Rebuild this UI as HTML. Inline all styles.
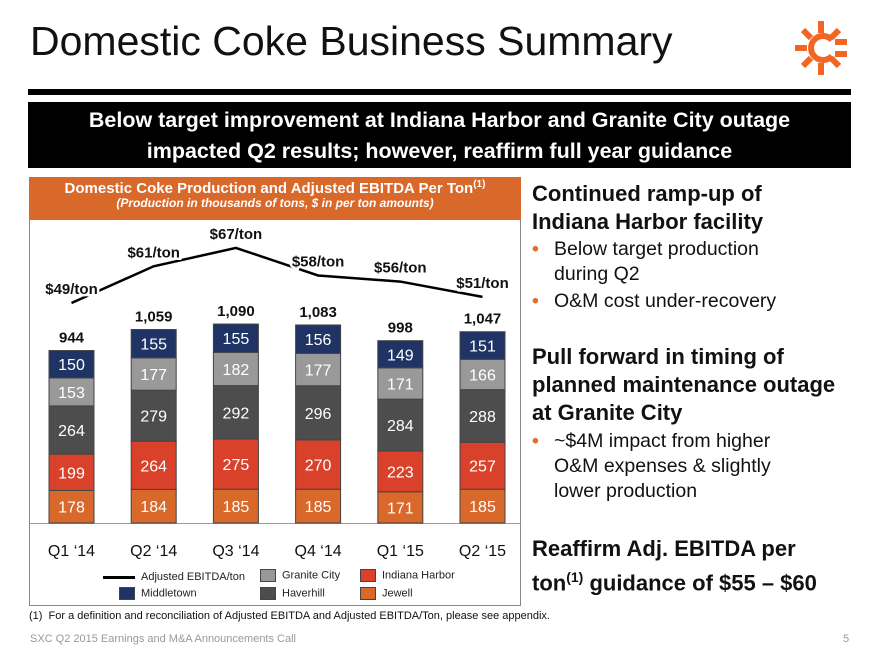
<!DOCTYPE html>
<html><head><meta charset="utf-8"><style>
body{margin:0;width:880px;height:660px;position:relative;background:#fff;font-family:"Liberation Sans",sans-serif;overflow:hidden}
.abs{position:absolute}
.rt{position:absolute;left:532px;color:#111;font-weight:bold;font-size:22px;line-height:28px}
.bl{position:absolute;left:532px;color:#111;font-size:19.5px;line-height:25px}
.bl b{color:#e0702a;display:inline-block;width:22px}
</style></head><body>
<div class="abs" style="left:30px;top:18px;font-size:41px;color:#111">Domestic Coke Business Summary</div>
<svg class="abs" style="left:795px;top:18px" width="56" height="60" viewBox="0 0 56 60">
<g stroke="#f26522" stroke-width="6" fill="none">
<line x1="26" y1="3" x2="26" y2="15"/><line x1="26" y1="45" x2="26" y2="57"/>
<line x1="0" y1="30" x2="12" y2="30"/>
<line x1="8" y1="12" x2="16" y2="20"/><line x1="8" y1="48" x2="16" y2="40"/>
<line x1="44" y1="12" x2="36" y2="20"/><line x1="44" y1="48" x2="36" y2="40"/>
<line x1="40" y1="24" x2="52" y2="24"/><line x1="40" y1="36" x2="52" y2="36"/>
<path d="M37 22 A12 12 0 1 0 37 38"/></g></svg>
<div class="abs" style="left:28px;top:89px;width:823px;height:6px;background:#000"></div>
<div class="abs" style="left:28px;top:102px;width:823px;height:66px;background:#000;color:#fff;font-weight:bold;font-size:21.5px;line-height:31px;text-align:center;padding-top:3px;box-sizing:border-box">Below target improvement at Indiana Harbor and Granite City outage<br>impacted Q2 results; however, reaffirm full year guidance</div>

<div class="abs" style="left:29px;top:177px;width:492px;height:429px;border:1px solid #888;box-sizing:border-box"></div>
<div class="abs" style="left:29px;top:177px;width:492px;height:43px;background:#d9682b;color:#fff;text-align:center;font-weight:bold">
<div style="font-size:15px;margin-top:2px">Domestic Coke Production and Adjusted EBITDA Per Ton<sup style="font-size:10px">(1)</sup></div>
<div style="font-size:12px;font-style:italic;margin-top:-1px">(Production in thousands of tons, $ in per ton amounts)</div></div>
<div class="abs" style="left:29px;top:523px;width:492px;height:1px;background:#999"></div>

<svg id="chart" class="abs" style="left:0;top:0" width="880" height="660"></svg>

<div class="abs" style="left:0;top:0;font-size:11px;color:#222">
<div class="abs" style="left:103px;top:571px;white-space:nowrap"><span style="display:inline-block;width:32px;height:3px;background:#000;vertical-align:middle;margin-right:6px"></span>Adjusted EBITDA/ton</div>
<div class="abs" style="left:260px;top:569px;white-space:nowrap"><span style="display:inline-block;width:14px;height:11px;background:#999;border:1px solid #444;vertical-align:middle;margin-right:6px"></span>Granite City</div>
<div class="abs" style="left:360px;top:569px;white-space:nowrap"><span style="display:inline-block;width:14px;height:11px;background:#d9412a;border:1px solid #444;vertical-align:middle;margin-right:6px"></span>Indiana Harbor</div>
<div class="abs" style="left:119px;top:587px;white-space:nowrap"><span style="display:inline-block;width:14px;height:11px;background:#1f3464;border:1px solid #444;vertical-align:middle;margin-right:6px"></span>Middletown</div>
<div class="abs" style="left:260px;top:587px;white-space:nowrap"><span style="display:inline-block;width:14px;height:11px;background:#4d4d4d;border:1px solid #444;vertical-align:middle;margin-right:6px"></span>Haverhill</div>
<div class="abs" style="left:360px;top:587px;white-space:nowrap"><span style="display:inline-block;width:14px;height:11px;background:#d9682b;border:1px solid #444;vertical-align:middle;margin-right:6px"></span>Jewell</div>
</div>

<div class="abs" style="left:29px;top:610px;font-size:11px;color:#111">(1)&nbsp; For a definition and reconciliation of Adjusted EBITDA and Adjusted EBITDA/Ton, please see appendix.</div>
<div class="abs" style="left:30px;top:633px;font-size:11px;color:#999">SXC Q2 2015 Earnings and M&amp;A Announcements Call</div>
<div class="abs" style="left:843px;top:633px;font-size:11px;color:#999">5</div>

<div class="rt" style="top:180px">Continued ramp-up of<br>Indiana Harbor facility</div>
<div class="bl" style="top:237px"><b>•</b>Below target production<br><span style="padding-left:22px">during Q2</span></div>
<div class="bl" style="top:289px"><b>•</b>O&amp;M cost under-recovery</div>
<div class="rt" style="top:343px">Pull forward in timing of<br>planned maintenance outage<br>at Granite City</div>
<div class="bl" style="top:429px"><b>•</b>~$4M impact from higher<br><span style="padding-left:22px">O&amp;M expenses &amp; slightly</span><br><span style="padding-left:22px">lower production</span></div>
<div class="rt" style="top:535px">Reaffirm Adj. EBITDA per<br>ton<sup style="font-size:14px">(1)</sup> guidance of $55 – $60</div>

<script>
const categories=["Q1 \u201814","Q2 \u201814","Q3 \u201814","Q4 \u201814","Q1 \u201815","Q2 \u201815"];
const jewell=[178,184,185,185,171,185];
const indiana=[199,264,275,270,223,257];
const haverhill=[264,279,292,296,284,288];
const granite=[153,177,182,177,171,166];
const middletown=[150,155,155,156,149,151];
const totals=[944,1059,1090,1083,998,1047];
const ebitda=[49,61,67,58,56,51];

const svg=document.getElementById('chart');
const NS='http://www.w3.org/2000/svg';
const base=523,k=0.1827;
const xc=i=>71.5+i*82.2;
const yv=v=>base-v*k;
const yl=v=>303-(v-49)*3.06;
function mk(t,a){const e=document.createElementNS(NS,t);for(const p in a)e.setAttribute(p,a[p]);svg.appendChild(e);return e;}
const series=[[jewell,'#d9682b','jewell'],[indiana,'#d9412a','indiana-harbor'],[haverhill,'#4d4d4d','haverhill'],[granite,'#999999','granite-city'],[middletown,'#1f3464','middletown']];
categories.forEach((c,i)=>{
  let cum=0;
  series.forEach(s=>{
    const v=s[0][i];const y0=yv(cum),y1=yv(cum+v);
    const r=mk('rect',{x:xc(i)-22.5,y:y1,width:45,height:y0-y1,fill:s[1],stroke:'#444','stroke-width':1});
    
    
    const t=mk('text',{x:xc(i),y:(y0+y1)/2+6,'text-anchor':'middle',fill:'#fff','font-size':16});
    t.textContent=v;
    
    
    cum+=v;
  });
  const tt=mk('text',{x:xc(i),y:yv(totals[i])-8,'text-anchor':'middle',fill:'#111','font-size':15,'font-weight':'bold'});
  tt.textContent=totals[i].toLocaleString('en-US');
  
  
  const ct=mk('text',{x:xc(i),y:556,'text-anchor':'middle',fill:'#111','font-size':16});
  ct.textContent=c;
  
  
});
const pts=ebitda.map((v,i)=>xc(i)+','+yl(v)).join(' ');
const pl=mk('polyline',{points:pts,fill:'none',stroke:'#000','stroke-width':2.5});


ebitda.forEach((v,i)=>{
  const t=mk('text',{x:xc(i),y:yl(v)-9,'text-anchor':'middle',fill:'#111','font-size':15,'font-weight':'bold',stroke:'#fff','stroke-width':5,'paint-order':'stroke'});
  t.textContent='$'+v+'/ton';
  
  
});
</script>
</body></html>
